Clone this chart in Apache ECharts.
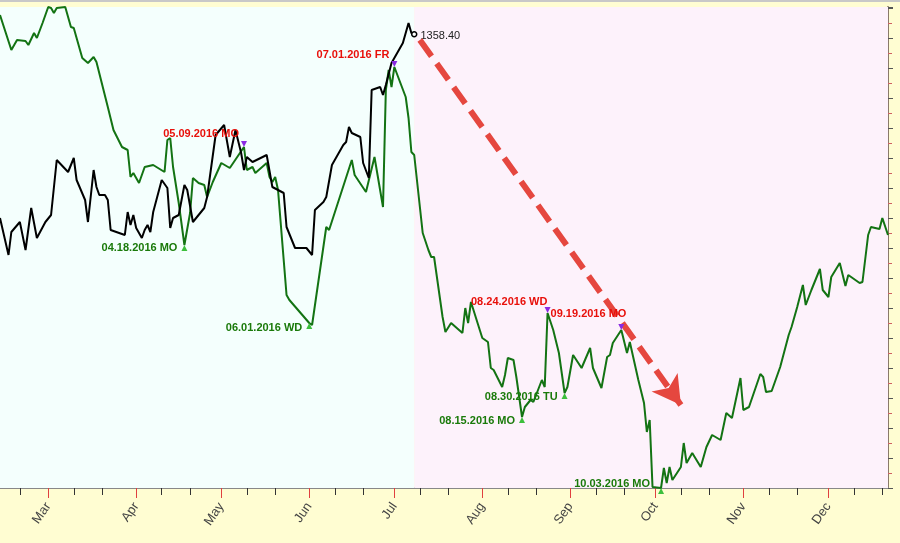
<!DOCTYPE html>
<html><head><meta charset="utf-8">
<script src="https://cdn.jsdelivr.net/npm/echarts@6/dist/echarts.min.js"></script>
<style>html,body{margin:0;padding:0;background:#fffdd2}#c{width:900px;height:543px}</style>
</head><body><div id="c"></div>
<script>
const blackDates=['2016-02-13','2016-02-16','2016-02-17','2016-02-20','2016-02-22','2016-02-24','2016-02-26','2016-02-29','2016-03-02','2016-03-04','2016-03-08','2016-03-10','2016-03-11','2016-03-14','2016-03-15','2016-03-17','2016-03-18','2016-03-19','2016-03-21','2016-03-22','2016-03-23','2016-03-28','2016-03-29','2016-03-30','2016-03-31','2016-04-01','2016-04-03','2016-04-04','2016-04-05','2016-04-06','2016-04-07','2016-04-10','2016-04-12','2016-04-13','2016-04-14','2016-04-16','2016-04-17','2016-04-18','2016-04-19','2016-04-21','2016-04-25','2016-04-26','2016-04-29','2016-05-02','2016-05-04','2016-05-06','2016-05-08','2016-05-09','2016-05-10','2016-05-12','2016-05-17','2016-05-19','2016-05-23','2016-05-24','2016-05-27','2016-05-31','2016-06-02','2016-06-03','2016-06-06','2016-06-07','2016-06-09','2016-06-13','2016-06-14','2016-06-15','2016-06-16','2016-06-19','2016-06-20','2016-06-22','2016-06-23','2016-06-26','2016-06-27','2016-06-28','2016-06-30','2016-07-04','2016-07-06','2016-07-07','2016-07-08'];
const blackValues=[1266.5,1248,1259.5,1264.5,1250.5,1271.5,1256.5,1264.5,1268,1295.5,1289.5,1296.5,1285.5,1275.5,1264.5,1290.5,1282,1278,1278,1275.5,1260.5,1258,1269.5,1263,1268,1261.5,1256.5,1260.5,1263,1259.5,1269.5,1285.5,1281.5,1261.5,1266.5,1268,1275.5,1283,1280.5,1264.5,1271.5,1277,1308,1313,1297,1310.5,1299,1290.5,1297,1294.5,1298,1282,1279,1262,1251.5,1251.5,1248,1270.5,1274.5,1277,1293,1303,1304.5,1312,1309,1307,1294,1286.5,1330.5,1332,1328,1333,1344,1354,1364,1359,1358.4];
const greenDates=['2016-02-13','2016-02-17','2016-02-19','2016-02-22','2016-02-23','2016-02-25','2016-02-26','2016-02-28','2016-03-01','2016-03-02','2016-03-03','2016-03-04','2016-03-07','2016-03-09','2016-03-10','2016-03-13','2016-03-15','2016-03-17','2016-03-18','2016-03-22','2016-03-24','2016-03-27','2016-03-29','2016-03-30','2016-03-31','2016-04-02','2016-04-04','2016-04-07','2016-04-11','2016-04-12','2016-04-13','2016-04-14','2016-04-16','2016-04-18','2016-04-20','2016-04-21','2016-04-23','2016-04-25','2016-04-26','2016-04-28','2016-05-01','2016-05-04','2016-05-09','2016-05-10','2016-05-12','2016-05-13','2016-05-17','2016-05-18','2016-05-19','2016-05-20','2016-05-21','2016-05-24','2016-05-25','2016-06-01','2016-06-02','2016-06-07','2016-06-08','2016-06-16','2016-06-17','2016-06-21','2016-06-24','2016-06-27','2016-06-28','2016-06-29','2016-06-30','2016-07-01','2016-07-05','2016-07-06','2016-07-07','2016-07-08','2016-07-11','2016-07-13','2016-07-14','2016-07-15','2016-07-18','2016-07-19','2016-07-21','2016-07-25','2016-07-26','2016-07-27','2016-07-28','2016-08-01','2016-08-03','2016-08-04','2016-08-05','2016-08-08','2016-08-09','2016-08-10','2016-08-12','2016-08-13','2016-08-15','2016-08-16','2016-08-18','2016-08-19','2016-08-22','2016-08-23','2016-08-24','2016-08-26','2016-08-28','2016-08-30','2016-08-31','2016-09-02','2016-09-05','2016-09-08','2016-09-09','2016-09-12','2016-09-14','2016-09-15','2016-09-16','2016-09-19','2016-09-21','2016-09-22','2016-09-25','2016-09-27','2016-09-28','2016-09-29','2016-09-30','2016-10-03','2016-10-04','2016-10-05','2016-10-06','2016-10-07','2016-10-10','2016-10-11','2016-10-12','2016-10-14','2016-10-17','2016-10-19','2016-10-21','2016-10-24','2016-10-26','2016-10-28','2016-10-31','2016-11-01','2016-11-03','2016-11-07','2016-11-08','2016-11-09','2016-11-11','2016-11-14','2016-11-17','2016-11-18','2016-11-20','2016-11-22','2016-11-23','2016-11-25','2016-11-28','2016-11-29','2016-12-01','2016-12-02','2016-12-05','2016-12-07','2016-12-08','2016-12-12','2016-12-13','2016-12-15','2016-12-16','2016-12-19','2016-12-20','2016-12-22'];
const greenValues=[1368,1350.5,1355.5,1355,1353,1359,1356.5,1364,1372,1371.5,1369,1371.5,1372,1362,1361.5,1346.5,1344,1347,1344.5,1322,1310.5,1302,1300.5,1287,1289,1284,1292,1293,1289.5,1305.5,1306.5,1292,1274,1253,1269,1286.5,1284,1283,1277,1284.5,1294,1291.5,1302,1290.5,1292,1289,1294,1287,1284.5,1287,1280.5,1228,1225.5,1214,1213,1262,1260.5,1295.5,1288,1279.5,1297,1272,1330.5,1340.5,1332,1342,1327,1316.5,1299.5,1298,1259,1250.5,1247,1247,1217,1209.5,1214,1209,1221.5,1214,1224.5,1206.5,1204.5,1191.5,1190.5,1182,1188,1196.5,1195.5,1187,1167,1172,1175.5,1174.5,1185.5,1182,1219,1210.5,1199,1179,1182,1198,1191.5,1201.5,1191.5,1181.5,1197,1198,1204,1210.5,1199,1204.5,1185.5,1174,1159.5,1165.5,1132,1131.5,1141.5,1134,1142,1135.5,1142,1154,1144,1149,1142,1152,1158,1155.5,1169,1166.5,1186.5,1170.5,1172,1188.5,1187,1179.5,1180,1192,1208,1212,1222,1233,1223,1230.5,1241,1230.5,1227,1237,1244,1232.5,1238,1234,1234.5,1258,1262,1261,1266.5,1258];
const noteDates=['2016-04-18','2016-05-09','2016-06-01','2016-07-01','2016-07-28','2016-08-24','2016-09-19','2016-08-15','2016-08-30','2016-10-03'];
const noteValues=[1253,1302,1214,1342,1224.5,1219,1210.5,1167,1179,1131.5];
const noteTexts=['04.18.2016 MO','05.09.2016 MO','06.01.2016 WD','07.01.2016 FR','08.24.2016 WD','09.19.2016 MO','','08.15.2016 MO','08.30.2016 TU','10.03.2016 MO'];
const noteKinds=['low','high','low','high','high','high','high','low','low','low'];
const monthLabels=['Mar','Apr','May','Jun','Jul','Aug','Sep','Oct','Nov','Dec'];
const lastPriceText='1358.40';
const arrowFrom=['2016-07-10',1355.5], arrowTo=['2016-10-10',1173];
const xStart='2016-02-13', xEnd='2016-12-22', splitDate='2016-07-08';

const T=s=>{const p=s.split('-').map(Number);return +new Date(p[0],p[1]-1,p[2]);};
const monthTicks=monthLabels.map((m,i)=>+new Date(2016,2+i,1));
const minorX=[];
for(let m=1;m<12;m++){[10,20].forEach(d=>{const t=+new Date(2016,m,d); if(t>=T(xStart)&&t<=T(xEnd)) minorX.push(t);});}
const kinds={low:{text:'#1a7a0a',sym:'triangle',col:'#3cbf3c',rot:0}, high:{text:'#e8100a',sym:'triangle',col:'#8a2be2',rot:180}};
const labelOffsets=[[-2,0,'left'],[0,-10,'left'],[-2,2,'left'],[0,-9,'left'],[-2,3,'right'],[-2,4,'right'],[0,0,'right'],[-2,1,'left'],[-2,1,'left'],[-6,-7,'left']];

const chart=echarts.init(document.getElementById('c'));
chart.setOption({
  backgroundColor:'#fffdd2',
  animation:false,
  graphic:[{type:'line',shape:{x1:0,y1:1,x2:900,y2:1},style:{stroke:'#c8c8c8',lineWidth:2}}],
  grid:{left:0,right:12,top:7,bottom:55},
  xAxis:[{
    type:'value',min:T(xStart),max:T(xEnd),
    axisLine:{show:true,lineStyle:{color:'#888',width:2}},
    axisTick:{show:true,customValues:monthTicks,length:10,lineStyle:{color:'#e04040',width:1}},
    axisLabel:{show:true,customValues:monthTicks,rotate:55,margin:16,color:'#444',fontSize:13,fontFamily:'Liberation Sans',
      formatter:v=>monthLabels[new Date(v).getMonth()-2]},
    splitLine:{show:false}
  },{
    type:'value',min:T(xStart),max:T(xEnd),position:'bottom',
    axisLine:{show:false},
    axisTick:{show:true,customValues:minorX,length:7,lineStyle:{color:'#333'}},
    axisLabel:{show:false},splitLine:{show:false}
  }],
  yAxis:{type:'value',position:'right',min:1131.5,max:1372,interval:15,
    axisLine:{show:true,lineStyle:{color:'#8a7a6a',width:2}},
    axisTick:{show:true,length:5,lineStyle:{color:'#555'}},
    minorTick:{show:true,splitNumber:2,length:4,lineStyle:{color:'#d06060'}},
    axisLabel:{show:false},splitLine:{show:false}},
  series:[
    {type:'line',name:'green',data:greenDates.map((d,i)=>[T(d),greenValues[i]]),showSymbol:false,
     lineStyle:{color:'#137313',width:2},itemStyle:{color:'#137313'},z:3,
     markArea:{silent:true,data:[
       [{xAxis:T(xStart),itemStyle:{color:'#f4fffd'}},{xAxis:T(splitDate)}],
       [{xAxis:T(splitDate),itemStyle:{color:'#fdf2fb'}},{xAxis:T(xEnd)}]]},
     markLine:{silent:true,symbol:['none','arrow'],symbolSize:[24,28],
       lineStyle:{color:'#e5473f',width:6,type:[20,9]},label:{show:false},
       data:[[{coord:[T(arrowFrom[0]),arrowFrom[1]]},{coord:[T(arrowTo[0]),arrowTo[1]]}]]}},
    {type:'line',name:'black',data:blackDates.map((d,i)=>{
        const last=i===blackDates.length-1;
        return {value:[T(d),blackValues[i]],symbol:last?'circle':'none',symbolSize:5,
          itemStyle:{color:'#fff',borderColor:'#000',borderWidth:1.5},
          label:{show:last,position:'right',formatter:lastPriceText,color:'#222',fontSize:11,fontFamily:'Liberation Sans',offset:[-2,2]}};
      }),
     showSymbol:true,showAllSymbol:true,lineStyle:{color:'#000',width:2},z:4},
    {type:'scatter',name:'notes',z:6,
     data:noteDates.map((d,i)=>{const k=kinds[noteKinds[i]];const o=labelOffsets[i];const bare=noteTexts[i]==='08.24.2016 WD';
       return {value:[T(d),noteValues[i]],symbol:k.sym,symbolRotate:k.rot,symbolSize:bare?0.1:6,
         symbolOffset:[0,noteKinds[i]==='low'?3:-3],
         itemStyle:{color:k.col,opacity:1},
         label:{show:!!noteTexts[i],formatter:noteTexts[i],position:o[2],offset:[o[0],o[1]],opacity:1,
           color:k.text,fontWeight:'bold',fontSize:11,fontFamily:'Liberation Sans',distance:2}};})}
  ]
});
</script></body></html>
